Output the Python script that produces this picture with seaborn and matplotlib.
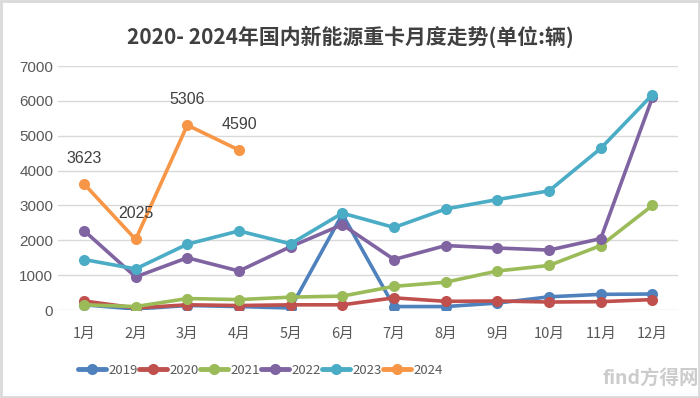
import numpy as np
import pandas as pd
import seaborn as sns
import matplotlib.pyplot as plt
from matplotlib.patches import Rectangle

months = ['1月', '2月', '3月', '4月', '5月', '6月', '7月', '8月', '9月', '10月', '11月', '12月']
y2019 = [150, 30, 130, 100, 60, 2750, 100, 100, 200, 380, 450, 460]
y2020 = [260, 60, 150, 130, 150, 150, 350, 250, 260, 230, 240, 300]
y2021 = [150, 100, 330, 300, 370, 400, 680, 800, 1120, 1280, 1850, 3000]
y2022 = [2280, 950, 1500, 1120, 1820, 2450, 1450, 1850, 1780, 1720, 2050, 6100]
y2023 = [1450, 1180, 1890, 2270, 1900, 2780, 2370, 2900, 3170, 3420, 4640, 6180]
y2024 = [3623, 2025, 5306, 4590]

years = ['2019', '2020', '2021', '2022', '2023', '2024']
colors = ['#4F81BD', '#C0504D', '#9BBB59', '#8064A2', '#4BACC6', '#F79646']

rows = []
for yr, vals in zip(years, [y2019, y2020, y2021, y2022, y2023, y2024]):
    for i, v in enumerate(vals):
        rows.append({'month': i, 'value': v, 'year': yr})
df = pd.DataFrame(rows)

sns.set_style('white')
plt.rcParams['font.family'] = ['Noto Sans CJK SC', 'DejaVu Sans']

fig = plt.figure(figsize=(7, 3.98), dpi=100)
ax = fig.add_axes([0.083, 0.221, 0.886, 0.613])

sns.lineplot(data=df, x='month', y='value', hue='year', palette=colors,
             marker='o', markersize=8, markeredgewidth=0, linewidth=2.6,
             ax=ax, legend=True)

# labels on 2024
for i, v in enumerate(y2024):
    ax.annotate(str(v), (i, v), xytext=(0, 13), textcoords='offset points',
                ha='center', va='bottom', fontsize=11.5, color='#404040',
                family=['Liberation Sans', 'DejaVu Sans'])

ax.set_xlim(-0.5, 11.5)
ax.set_ylim(0, 7000)
ax.set_yticks(range(0, 7001, 1000))
ax.set_xticks(range(12))
ax.set_xticklabels(months)
ax.tick_params(axis='both', length=0, labelsize=10.5, colors='#595959')
ax.tick_params(axis='x', pad=12)
for lab in ax.get_yticklabels():
    lab.set_family(['Liberation Sans', 'DejaVu Sans'])
    lab.set_fontsize(11)
ax.grid(axis='y', color='#D9D9D9', linewidth=1)
ax.set_axisbelow(True)
for s in ax.spines.values():
    s.set_visible(False)
ax.set_xlabel('')
ax.set_ylabel('')

handles, labels = ax.get_legend_handles_labels()
for h in handles:
    h.set_linewidth(3.5)
    h.set_markersize(8)
ax.legend(handles, labels, loc='center', bbox_to_anchor=(0.372, 0.07),
          bbox_transform=fig.transFigure, ncol=6, frameon=False,
          fontsize=9.5, handlelength=2.1, columnspacing=0.1, handletextpad=0.2,
          labelcolor='#595959')

fig.suptitle('2020- 2024年国内新能源重卡月度走势(单位:辆)', y=0.935,
             fontsize=15, fontweight='bold', color='#404040')

fig.text(0.93, 0.05, 'find方得网', ha='center', va='center', fontsize=14,
         color='#CCCCCC', fontweight='bold')

fig.patches.append(Rectangle((0.002, 0.003), 0.996, 0.994, transform=fig.transFigure,
                             fill=False, edgecolor='#D9D9D9', linewidth=2))

fig.savefig('out.png', dpi=100)
